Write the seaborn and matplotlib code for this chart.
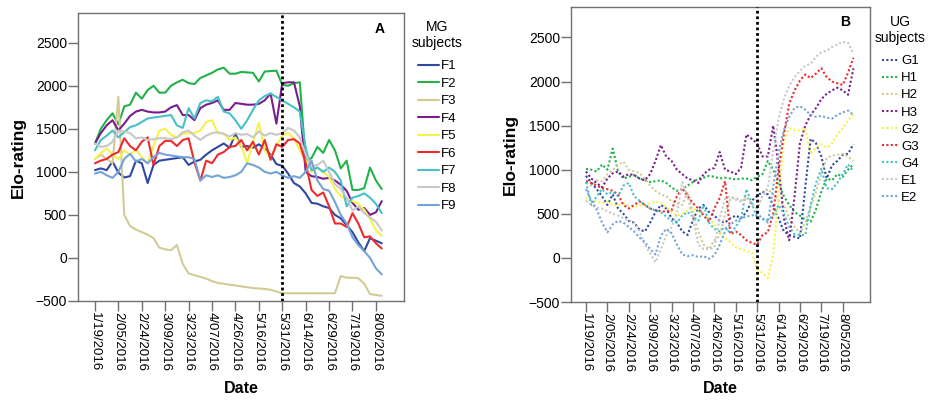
import matplotlib
matplotlib.use("Agg")
import matplotlib.pyplot as plt
import pandas as pd
import seaborn as sns

sns.set_style("ticks")
plt.rcParams["font.family"] = ["Liberation Sans", "DejaVu Sans"]
plt.rcParams["text.color"] = "black"
plt.rcParams["axes.labelcolor"] = "black"

# Session axis: one point per session, a dated tick every fourth session
tick_step = 4
split_session = 32  # 5/31/2016, marked with the dotted vertical line
mg_tick_labels = ["1/19/2016", "2/05/2016", "2/24/2016", "3/09/2016", "3/23/2016",
                  "4/07/2016", "4/26/2016", "5/16/2016", "5/31/2016", "6/14/2016",
                  "6/29/2016", "7/19/2016", "8/06/2016"]
ug_tick_labels = ["1/19/2016", "2/05/2016", "2/24/2016", "3/09/2016", "3/23/2016",
                  "4/07/2016", "4/26/2016", "5/16/2016", "5/31/2016", "6/14/2016",
                  "6/29/2016", "7/19/2016", "8/05/2016"]
y_ticks = [-500, 0, 500, 1000, 1500, 2000, 2500]

# MG subjects (panel A)
F1 = [1020, 1040, 1020, 1120, 990, 935, 950, 1130, 1100, 870, 1080, 1130, 1140, 1150, 1160, 1170, 1080,
      1120, 1140, 1200, 1250, 1290, 1330, 1280, 1440, 1290, 1300, 1280, 1320, 1270, 1200, 1090, 1070,
      980, 870, 830, 750, 640, 630, 600, 580, 500, 460, 380, 300, 180, 80, 230, 200, 170]
F2 = [1330, 1500, 1600, 1680, 1550, 1760, 1780, 1920, 1850, 1950, 2000, 1920, 1920, 2000, 2040, 2070,
      2030, 2020, 2090, 2120, 2150, 2190, 2210, 2140, 2140, 2160, 2155, 2150, 2050, 2165, 2170, 2175,
      2010, 2000, 2030, 2040, 1130, 1160, 1290, 1220, 1370, 1250, 1040, 1130, 790, 790, 810, 1050, 900, 800]
F3 = [1150, 1200, 1150, 1100, 1870, 500, 370, 330, 300, 270, 230, 120, 100, 90, 150, -70, -180, -200,
      -220, -240, -270, -290, -300, -310, -320, -330, -340, -350, -355, -360, -370, -390, -410, -410,
      -410, -410, -410, -410, -410, -410, -410, -410, -210, -230, -230, -235, -300, -420, -430, -440]
F4 = [1330, 1450, 1540, 1600, 1480, 1560, 1650, 1700, 1720, 1700, 1690, 1690, 1700, 1750, 1775, 1660,
      1660, 1600, 1740, 1780, 1800, 1830, 1720, 1720, 1800, 1790, 1780, 1780, 1790, 1830, 1910, 1560,
      2030, 2040, 2040, 1760, 1000, 950, 940, 920, 930, 900, 850, 780, 640, 560, 580, 500, 530, 660]
F5 = [1150, 1220, 1270, 1200, 1150, 1250, 1200, 1260, 1170, 1100, 1300, 1480, 1500, 1430, 1400, 1440,
      1450, 1450, 1480, 1580, 1600, 1450, 1450, 1370, 1400, 1300, 1100, 1350, 1570, 1250, 1170, 1300,
      1420, 1450, 1390, 1250, 1130, 1000, 1050, 1000, 940, 800, 720, 680, 660, 630, 560, 450, 320, 260]
F6 = [1100, 1130, 1150, 1200, 1230, 1390, 1300, 1250, 1350, 1400, 1080, 1300, 1360, 1360, 1300, 1370,
      1390, 1110, 900, 1130, 1100, 1200, 1230, 1290, 1300, 1370, 1250, 1350, 1200, 1370, 1140, 1320,
      1290, 1370, 1380, 1330, 1100, 790, 720, 760, 600, 400, 400, 360, 520, 400, 240, 250, 170, 110]
F7 = [1250, 1370, 1420, 1480, 1400, 1460, 1520, 1540, 1580, 1620, 1630, 1640, 1650, 1660, 1540, 1510,
      1740, 1620, 1800, 1830, 1820, 1870, 1700, 1680, 1600, 1500, 1600, 1720, 1830, 1880, 1910, 1870,
      1830, 1790, 1750, 1700, 1280, 1020, 1050, 1000, 1050, 1000, 900, 600, 700, 720, 750, 700, 630, 520]
F8 = [1330, 1290, 1300, 1350, 1480, 1470, 1450, 1390, 1400, 1370, 1380, 1390, 1390, 1380, 1400, 1460,
      1480, 1420, 1370, 1420, 1450, 1460, 1440, 1410, 1450, 1430, 1440, 1400, 1470, 1420, 1450, 1430,
      1450, 1510, 1480, 1400, 1200, 1060, 1080, 1130, 1000, 860, 800, 700, 550, 600, 520, 470, 420, 320]
F9 = [980, 1000, 960, 930, 1000, 1150, 1210, 1120, 1150, 1100, 1170, 1220, 1200, 1190, 1180, 1170, 1170,
      1150, 900, 960, 940, 960, 930, 940, 960, 1000, 1100, 1080, 1050, 1000, 980, 1000, 960, 930, 950,
      930, 1000, 1130, 900, 800, 780, 650, 500, 400, 240, 150, 80, 0, -120, -190]

# UG subjects (panel B)
G1 = [930, 850, 780, 700, 600, 720, 560, 500, 420, 400, 320, 300, 400, 520, 600, 560, 450, 400, 300, 260,
      430, 560, 600, 520, 480, 420, 400, 450, 480, 450, 520, 650, 700, 750, 720, 600, 450, 300, 260, 240,
      220, 800, 1350, 1300, 1150, 900, 1050, 1100, 1170, 1180, 1290]
H1 = [1010, 1000, 980, 1060, 1000, 1240, 980, 900, 920, 940, 900, 880, 860, 870, 880, 850, 800, 760, 780,
      820, 860, 900, 910, 930, 920, 900, 910, 900, 890, 900, 900, 880, 920, 950, 1100, 1000, 850, 700,
      600, 520, 480, 430, 410, 550, 750, 900, 880, 950, 920, 1000, 1060]
H2 = [850, 820, 880, 870, 950, 1000, 1050, 1090, 1000, 980, 960, 900, 820, 760, 720, 700, 640, 620, 600,
      750, 520, 300, 150, 100, 200, 250, 500, 670, 680, 650, 700, 620, 560, 700, 780, 720, 650, 600, 450,
      350, 280, 400, 580, 750, 950, 1130, 1160, 1170, 1180, 1150, 1100]
H3 = [980, 900, 850, 800, 900, 960, 980, 920, 950, 940, 900, 880, 950, 1100, 1280, 1150, 1100, 1000, 950,
      900, 880, 850, 950, 1000, 1020, 1200, 1000, 980, 950, 1020, 1400, 1350, 1300, 1150, 1150, 1500,
      1050, 450, 200, 700, 1300, 1500, 1620, 1700, 1800, 1860, 1900, 1930, 1900, 1850, 2150]
G2 = [680, 650, 640, 620, 640, 600, 600, 620, 590, 580, 590, 600, 620, 640, 620, 580, 520, 480, 500, 540,
      560, 530, 500, 450, 380, 290, 230, 180, 120, 100, 80, 60, -130, -170, -230, 30, 700, 1320, 1470,
      1450, 1440, 1470, 1180, 1250, 1290, 1250, 1300, 1400, 1470, 1560, 1630]
G3 = [870, 850, 820, 790, 780, 760, 720, 600, 560, 600, 640, 600, 560, 540, 530, 525, 540, 700, 790, 700,
      620, 560, 480, 410, 560, 680, 870, 270, 300, 260, 200, 170, 150, 260, 290, 500, 1000, 1400, 1750,
      1900, 2010, 2080, 2040, 2090, 2150, 2050, 2000, 1980, 1960, 2100, 2270]
G4 = [860, 600, 700, 780, 720, 750, 700, 820, 850, 700, 650, 600, 560, 540, 520, 470, 420, 400, 480, 520,
      470, 420, 600, 400, 330, 300, 350, 280, 350, 450, 780, 620, 450, 440, 430, 480, 600, 500, 350, 270,
      260, 260, 600, 850, 1010, 790, 780, 850, 950, 1060, 980]
E1 = [650, 600, 570, 560, 530, 500, 480, 450, 430, 400, 300, 150, 50, -50, 100, 250, 350, 500, 860, 700,
      450, 150, 100, 100, 120, 450, 670, 700, 660, 640, 680, 600, 560, 700, 800, 1200, 1580, 1800, 1950,
      2050, 2120, 2180, 2200, 2280, 2330, 2350, 2390, 2420, 2450, 2440, 2310]
E2 = [780, 650, 550, 400, 290, 380, 420, 400, 350, 300, 230, 180, 100, 40, 250, 330, 280, 150, 40, 20, 30,
      10, 20, -10, 30, 150, 300, 380, 420, 450, 470, 480, 500, 450, 400, 800, 1200, 1450, 1600, 1700,
      1720, 1680, 1620, 1600, 1610, 1590, 1580, 1620, 1650, 1670, 1620]

mg_series = {"F1": F1, "F2": F2, "F3": F3, "F4": F4, "F5": F5, "F6": F6, "F7": F7, "F8": F8, "F9": F9}
ug_series = {"G1": G1, "H1": H1, "H2": H2, "H3": H3, "G2": G2, "G3": G3, "G4": G4, "E1": E1, "E2": E2}

colors = ["#2f48a3", "#22b24a", "#d2cb96", "#7b1e8d", "#f6f24c", "#ee2a2d", "#46c1c8", "#c8c8c8", "#74a3d8"]


def long_frame(series):
    rows = [(name, i, v) for name, vals in series.items() for i, v in enumerate(vals)]
    return pd.DataFrame(rows, columns=["subject", "session", "elo"])


mg_df = long_frame(mg_series)
ug_df = long_frame(ug_series)

fig = plt.figure(figsize=(9.32, 4.03), dpi=100)
W, H = 932, 403
ax_a = fig.add_axes([78 / W, 1 - 301 / H, (404 - 78) / W, (301 - 13) / H])
ax_b = fig.add_axes([571 / W, 1 - 302 / H, (870 - 571) / W, (302 - 7) / H])

sns.lineplot(data=mg_df, x="session", y="elo", hue="subject", hue_order=list(mg_series),
             palette=colors, linewidth=1.5, errorbar=None, sort=False, ax=ax_a)
sns.lineplot(data=ug_df, x="session", y="elo", hue="subject", hue_order=list(ug_series),
             palette=colors, linewidth=1.5, errorbar=None, sort=False, ax=ax_b)
dot_style = (0, (1, 1.1))
for line in ax_b.lines:
    line.set_linestyle(dot_style)

spine_color = "#707070"
label_top_px = 381  # top of the "Date" label, from the figure top
panels = [(ax_a, mg_tick_labels, "A", (0.926, 0.944), (-2.9, 52.8), "MG\nsubjects",
           (412, 20), 1.6, -0.16, 0.4),
          (ax_b, ug_tick_labels, "B", (0.916, 0.949), (-2.8, 53.1), "UG\nsubjects",
           (875, 15), 1.3, -0.177, 0.37)]
for ax, labels, letter, letter_pos, xlim, leg_title, leg_xy, hlen, ylab_x, lspace in panels:
    ax.axvline(split_session, color="black", linestyle=(0, (1, 1)), linewidth=2.0, zorder=5)
    ax.set_xlim(*xlim)
    ax.set_ylim(-500, 2845)
    ax.set_xticks(range(0, tick_step * len(labels), tick_step))
    ax.set_xticklabels(labels, rotation=270, ha="center", va="top")
    ax.set_yticks(y_ticks)
    ax.tick_params(axis="both", direction="out", length=7, width=1, color=spine_color, pad=1,
                   labelcolor="black")
    ax.tick_params(axis="y", labelsize=10)
    ax.tick_params(axis="x", labelsize=9.5)
    for side in ("left", "right", "top", "bottom"):
        ax.spines[side].set_visible(True)
        ax.spines[side].set_color(spine_color)
        ax.spines[side].set_linewidth(1.0)
    ax.set_xlabel("Date", fontsize=11.5, fontweight="bold")
    ax.set_ylabel("Elo-rating", fontsize=12.5, fontweight="bold")
    pos = ax.get_position()
    bottom_px = pos.y0 * H
    ax.xaxis.set_label_coords(0.5, ((H - label_top_px) - bottom_px) / (pos.height * H))
    ax.yaxis.set_label_coords(ylab_x, 0.5)
    ax.text(*letter_pos, letter, transform=ax.transAxes, fontsize=10, fontweight="bold",
            ha="center", va="center")

    handles, names = ax.get_legend_handles_labels()
    leg = ax.legend(handles, names, title=leg_title, loc="upper left",
                    bbox_to_anchor=(leg_xy[0] / W, 1 - leg_xy[1] / H), bbox_transform=fig.transFigure,
                    frameon=False, fontsize=9.5, title_fontsize=10, handlelength=hlen,
                    handletextpad=0.15, labelspacing=lspace, borderpad=0, borderaxespad=0)
    leg.get_title().set_multialignment("center")
    leg._legend_box.sep = 7
    for h in leg.legend_handles:
        h.set_linewidth(1.5)
        if ax is ax_b:
            h.set_linestyle(dot_style)

fig.savefig("out.png", dpi=100)
